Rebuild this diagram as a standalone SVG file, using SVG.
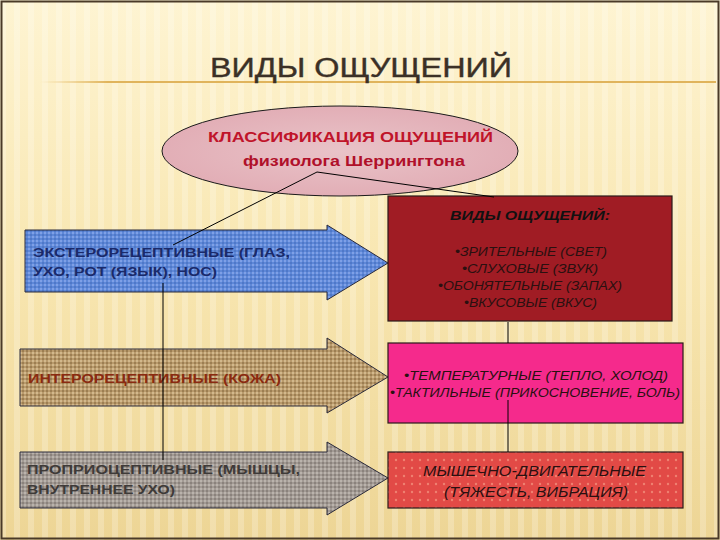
<svg xmlns="http://www.w3.org/2000/svg" width="720" height="540" viewBox="0 0 720 540">
<defs>
<linearGradient id="bg" x1="0" y1="0" x2="0" y2="1">
<stop offset="0" stop-color="#FEF4D2"/>
<stop offset="0.5" stop-color="#F8E6B0"/>
<stop offset="1" stop-color="#EDD595"/>
</linearGradient>
<pattern id="stripes" width="14" height="540" patternUnits="userSpaceOnUse">
<rect x="0" y="0" width="6" height="540" fill="#FFFFFF" opacity="0.22"/>
</pattern>
<pattern id="blueTex" width="4" height="4" patternUnits="userSpaceOnUse">
<rect width="4" height="4" fill="#5E88D8"/>
<rect width="2" height="2" fill="#7FA0E6"/>
<rect x="2" y="2" width="2" height="2" fill="#4F78C8"/>
</pattern>
<pattern id="brownTex" width="4" height="4" patternUnits="userSpaceOnUse">
<rect width="4" height="4" fill="#B99A6C"/>
<rect width="2" height="2" fill="#D2B88C"/>
<rect x="2" y="2" width="2" height="2" fill="#9C7E52"/>
</pattern>
<pattern id="grayTex" width="4" height="4" patternUnits="userSpaceOnUse">
<rect width="4" height="4" fill="#A29A94"/>
<rect width="2" height="2" fill="#BAB3AC"/>
<rect x="2" y="2" width="2" height="2" fill="#8A827C"/>
</pattern>
<pattern id="redDots" width="8" height="8" patternUnits="userSpaceOnUse">
<rect width="8" height="8" fill="#E24A46"/>
<circle cx="4" cy="4" r="1.2" fill="#F08070"/>
</pattern>
<radialGradient id="ellFill" cx="0.5" cy="0.5" r="0.5">
<stop offset="0" stop-color="#E9C3C8"/>
<stop offset="1" stop-color="#E2AEB6"/>
</radialGradient>
<linearGradient id="rule" x1="0" y1="0" x2="1" y2="0">
<stop offset="0" stop-color="#E8C070" stop-opacity="0"/>
<stop offset="0.1" stop-color="#E0B45C"/>
<stop offset="1" stop-color="#E0B45C"/>
</linearGradient>
</defs>
<style>
.box{stroke:#2a1a1a;stroke-width:1.2}
.arrow{stroke:#2a2a3a;stroke-width:1}
.conn{stroke:#000;stroke-width:1;fill:none}
.lbl{font-family:"Liberation Sans",Arial,sans-serif}
.it{font-style:italic;fill:#2a1010}
</style>
<rect width="720" height="540" fill="url(#bg)"/>
<rect width="720" height="540" fill="url(#stripes)"/>
<rect x="1.5" y="1.5" width="717" height="537" fill="none" stroke="#4A3A28" stroke-width="2"/>
<rect x="40" y="81" width="676" height="2" fill="url(#rule)"/>

<text class="lbl" x="210" y="77" font-size="27" fill="#3B3026" stroke="#3B3026" stroke-width="0.4" textLength="302" lengthAdjust="spacingAndGlyphs">ВИДЫ ОЩУЩЕНИЙ</text>

<g id="ellipse-node">
<ellipse cx="340" cy="151" rx="178" ry="45" fill="url(#ellFill)" stroke="#1a1a1a" stroke-width="1"/>
<text class="lbl" x="208" y="142" font-size="15" font-weight="bold" fill="#C0142A" textLength="285" lengthAdjust="spacingAndGlyphs">КЛАССИФИКАЦИЯ ОЩУЩЕНИЙ</text>
<text class="lbl" x="243" y="166" font-size="15" font-weight="bold" fill="#B0102A" textLength="222" lengthAdjust="spacingAndGlyphs">физиолога Шеррингтона</text>
</g>

<g id="exteroceptive">
<polygon class="arrow" points="25,230 327,230 327,225 388,263 327,300 327,292 25,292" fill="url(#blueTex)"/>
<text class="lbl" x="33" y="257" font-size="13" font-weight="bold" fill="#1A2A6A" textLength="257" lengthAdjust="spacingAndGlyphs">ЭКСТЕРОРЕЦЕПТИВНЫЕ (ГЛАЗ,</text>
<text class="lbl" x="33" y="276" font-size="13" font-weight="bold" fill="#1A2A6A" textLength="184" lengthAdjust="spacingAndGlyphs">УХО, РОТ (ЯЗЫК), НОС)</text>
</g>

<g id="interoceptive">
<polygon class="arrow" points="20,349 327,349 327,338 388,377 327,413 327,406 20,406" fill="url(#brownTex)"/>
<text class="lbl" x="28" y="383" font-size="13" font-weight="bold" fill="#8A2A10" textLength="253" lengthAdjust="spacingAndGlyphs">ИНТЕРОРЕЦЕПТИВНЫЕ (КОЖА)</text>
</g>

<g id="proprioceptive">
<polygon class="arrow" points="20,452 327,452 327,442 388,478 327,515 327,508 20,508" fill="url(#grayTex)"/>
<text class="lbl" x="27" y="474" font-size="13" font-weight="bold" fill="#3E3A38" textLength="273" lengthAdjust="spacingAndGlyphs">ПРОПРИОЦЕПТИВНЫЕ (МЫШЦЫ,</text>
<text class="lbl" x="27" y="494" font-size="13" font-weight="bold" fill="#3E3A38" textLength="148" lengthAdjust="spacingAndGlyphs">ВНУТРЕННЕЕ УХО)</text>
</g>

<g id="types-box">
<rect class="box" x="388" y="196" width="284" height="125" fill="#A01C24"/>
<text class="lbl" x="450" y="220" font-size="13" font-weight="bold" font-style="italic" fill="#111" textLength="160" lengthAdjust="spacingAndGlyphs">ВИДЫ ОЩУЩЕНИЙ:</text>
<text class="lbl it" x="455" y="256" font-size="12" textLength="152" lengthAdjust="spacingAndGlyphs">•ЗРИТЕЛЬНЫЕ (СВЕТ)</text>
<text class="lbl it" x="462" y="273" font-size="12" textLength="136" lengthAdjust="spacingAndGlyphs">•СЛУХОВЫЕ (ЗВУК)</text>
<text class="lbl it" x="438" y="290" font-size="12" textLength="184" lengthAdjust="spacingAndGlyphs">•ОБОНЯТЕЛЬНЫЕ (ЗАПАХ)</text>
<text class="lbl it" x="464" y="307" font-size="12" textLength="133" lengthAdjust="spacingAndGlyphs">•ВКУСОВЫЕ (ВКУС)</text>
</g>

<g id="skin-box">
<rect class="box" x="388" y="343" width="295" height="80" fill="#F52A8C"/>
<text class="lbl it" x="404" y="380" font-size="13" textLength="264" lengthAdjust="spacingAndGlyphs">•ТЕМПЕРАТУРНЫЕ (ТЕПЛО, ХОЛОД)</text>
<text class="lbl it" x="390" y="397" font-size="13" textLength="290" lengthAdjust="spacingAndGlyphs">•ТАКТИЛЬНЫЕ (ПРИКОСНОВЕНИЕ, БОЛЬ)</text>
</g>

<g id="muscle-box">
<rect class="box" x="388" y="452" width="295" height="56" fill="url(#redDots)"/>
<text class="lbl it" x="423" y="476" font-size="14.5" textLength="223" lengthAdjust="spacingAndGlyphs">МЫШЕЧНО-ДВИГАТЕЛЬНЫЕ</text>
<text class="lbl it" x="444" y="497" font-size="14.5" textLength="184" lengthAdjust="spacingAndGlyphs">(ТЯЖЕСТЬ, ВИБРАЦИЯ)</text>
</g>

<g id="connectors">
<line class="conn" x1="317" y1="172" x2="173" y2="245"/>
<line class="conn" x1="317" y1="172" x2="494" y2="197"/>
<line class="conn" x1="163" y1="283" x2="163" y2="460"/>
<line class="conn" x1="508" y1="322" x2="508" y2="343"/>
<line class="conn" x1="508" y1="400" x2="508" y2="452"/>
</g>
</svg>
